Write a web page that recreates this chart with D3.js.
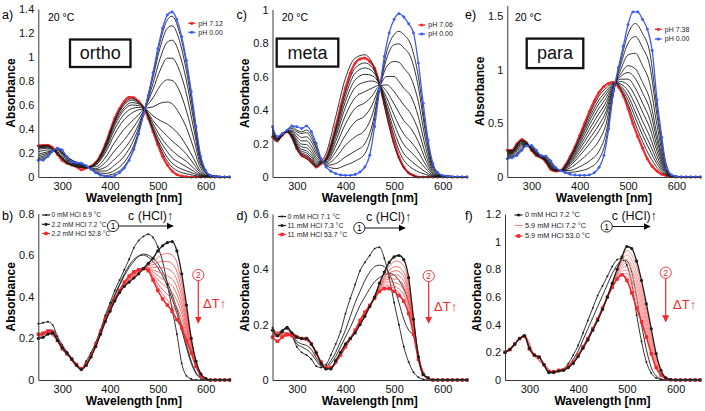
<!DOCTYPE html>
<html><head><meta charset="utf-8">
<script src="https://cdn.jsdelivr.net/npm/d3@7"></script>
<style>body{margin:0;background:#fff} svg text{font-family:"Liberation Sans",Arial,sans-serif}</style>
</head><body><script>
// ---------------- DATA ----------------
const xTicks = [300,400,500,600];
const wl = [250,260,270,280,290,300,310,320,330,340,350,360,370,380,390,400,410,420,430,440,450,460,470,480,490,500,510,520,530,540,550,560,570,580,590,600,610,620,630,640,650];

// (a) ortho, 20 °C
const orthoRed  = [.26,.265,.265,.245,.19,.14,.115,.10,.085,.06,.075,.09,.12,.18,.27,.38,.49,.57,.63,.665,.66,.63,.58,.49,.38,.27,.17,.10,.05,.02,.008,.003,0,0,0,0,0,0,0,0,0];
const orthoBlue = [.14,.14,.17,.215,.24,.225,.17,.125,.12,.115,.095,.065,.035,.015,.005,.003,.012,.035,.075,.14,.23,.36,.52,.68,.87,1.07,1.24,1.35,1.375,1.31,1.17,.97,.71,.42,.17,.055,.015,.004,0,0,0];
const orthoMidWl = [250,270,290,310,330,350,370,390,410,430,445,460,473,490,505,520,530,545,560,575,590,610,650];
const orthoMid = [
 [.14,.17,.24,.17,.12,.09,.04,.013,.03,.09,.19,.37,.57,.86,1.13,1.31,1.34,1.21,.94,.55,.165,.015,0],
 [.15,.18,.24,.165,.12,.09,.04,.03,.055,.125,.22,.38,.57,.83,1.08,1.24,1.26,1.14,.88,.52,.155,.014,0],
 [.16,.19,.23,.16,.11,.09,.05,.05,.10,.175,.27,.41,.57,.78,.99,1.125,1.14,1.03,.80,.47,.14,.012,0],
 [.175,.20,.225,.155,.11,.09,.06,.08,.15,.235,.32,.44,.57,.73,.89,.99,.99,.89,.69,.405,.12,.011,0],
 [.19,.21,.22,.145,.105,.085,.07,.12,.22,.31,.39,.48,.57,.66,.76,.81,.805,.72,.55,.325,.097,.009,0],
 [.21,.225,.21,.14,.10,.083,.085,.16,.29,.40,.46,.52,.57,.585,.615,.625,.61,.53,.41,.24,.071,.006,0],
 [.23,.24,.20,.13,.095,.08,.10,.20,.36,.48,.53,.56,.565,.51,.47,.44,.41,.35,.26,.155,.046,.004,0],
 [.24,.25,.20,.125,.09,.08,.10,.22,.40,.525,.57,.58,.565,.47,.40,.34,.30,.25,.19,.11,.032,.003,0],
 [.245,.25,.195,.12,.09,.078,.11,.235,.43,.56,.60,.595,.565,.445,.34,.26,.22,.17,.13,.074,.022,.002,0],
 [.25,.257,.194,.12,.088,.077,.113,.247,.45,.58,.62,.61,.565,.42,.30,.21,.16,.12,.085,.048,.014,.001,0],
 [.254,.26,.192,.118,.087,.076,.116,.257,.466,.602,.64,.617,.565,.40,.267,.163,.116,.075,.051,.029,.009,.001,0],
 [.257,.263,.191,.116,.086,.076,.118,.263,.478,.616,.653,.623,.565,.39,.243,.131,.083,.044,.027,.014,.004,0,0]
];

// (c) meta, 20 °C
const metaRed  = [.24,.22,.25,.27,.24,.17,.13,.115,.09,.06,.08,.11,.19,.30,.42,.53,.62,.68,.705,.71,.69,.65,.56,.44,.32,.21,.12,.06,.025,.01,0,0,0,0,0,0,0,0,0,0,0];
const metaBlue = [.30,.24,.26,.28,.305,.30,.29,.305,.27,.20,.11,.06,.035,.02,.012,.01,.01,.015,.03,.06,.13,.30,.52,.72,.86,.94,.975,.955,.915,.86,.68,.44,.22,.08,.025,.01,.005,0,0,0,0];
const metaMidWl = [250,260,270,280,290,300,310,320,330,340,350,360,380,400,420,440,455,470,485,500,510,520,535,550,565,580,600,650];
const metaMid = [
 [.23,.21,.25,.27,.23,.165,.125,.11,.085,.06,.09,.14,.36,.59,.71,.73,.68,.55,.36,.19,.11,.055,.015,0,0,0,0,0],
 [.29,.24,.26,.28,.30,.28,.27,.28,.25,.18,.11,.07,.05,.07,.095,.14,.27,.525,.75,.85,.87,.85,.785,.60,.29,.07,.009,0],
 [.29,.24,.258,.278,.29,.27,.26,.265,.23,.17,.10,.07,.08,.12,.155,.20,.31,.53,.71,.79,.795,.77,.71,.537,.26,.063,.008,0],
 [.28,.233,.257,.277,.28,.256,.236,.24,.21,.15,.10,.077,.115,.19,.24,.28,.37,.534,.66,.69,.685,.65,.59,.449,.218,.053,.007,0],
 [.272,.231,.255,.275,.274,.239,.215,.216,.185,.134,.096,.084,.15,.25,.33,.365,.43,.539,.60,.60,.57,.53,.48,.36,.175,.042,.005,0],
 [.265,.228,.254,.274,.267,.223,.196,.193,.164,.117,.092,.09,.185,.317,.41,.443,.484,.544,.55,.51,.47,.43,.375,.279,.135,.033,.004,0],
 [.259,.226,.253,.273,.26,.21,.18,.174,.146,.103,.089,.095,.213,.369,.474,.51,.531,.548,.51,.436,.385,.337,.288,.211,.102,.025,.003,0],
 [.253,.224,.252,.272,.254,.199,.165,.157,.13,.091,.087,.099,.238,.416,.534,.567,.573,.551,.472,.371,.308,.257,.209,.15,.073,.018,.002,0],
 [.249,.223,.252,.272,.25,.19,.154,.144,.117,.081,.085,.103,.258,.452,.58,.613,.605,.554,.443,.32,.248,.194,.148,.102,.05,.012,.002,0],
 [.245,.222,.251,.271,.246,.182,.144,.132,.106,.073,.083,.106,.275,.483,.62,.651,.633,.556,.418,.276,.197,.14,.096,.061,.03,.007,.001,0],
 [.243,.221,.25,.27,.243,.176,.137,.124,.098,.066,.081,.108,.287,.507,.65,.681,.654,.558,.399,.243,.158,.10,.056,.031,.015,.004,0,0]
];

// (e) para, 20 °C
const paraRed  = [.25,.25,.31,.35,.32,.25,.20,.18,.14,.07,.055,.06,.11,.19,.28,.39,.50,.61,.71,.79,.845,.875,.885,.84,.76,.64,.50,.38,.27,.17,.10,.055,.025,.01,.003,0,0,0,0,0,0];
const paraBlue = [.17,.18,.20,.25,.29,.295,.25,.20,.195,.15,.09,.06,.04,.025,.018,.015,.015,.02,.04,.09,.20,.45,.80,1.02,1.22,1.42,1.54,1.54,1.47,1.38,1.18,.72,.37,.08,.02,.005,0,0,0,0,0];
const paraMidWl = [250,260,270,280,290,300,310,320,330,340,350,360,380,400,420,440,455,465,475,485,500,515,530,545,560,575,590,610,650];
const paraMid = [
 [.179,.188,.212,.261,.293,.29,.245,.198,.189,.141,.086,.06,.043,.056,.085,.167,.362,.649,.897,1.085,1.334,1.432,1.338,1.163,.647,.198,.018,.002,0],
 [.188,.195,.224,.272,.297,.285,.239,.196,.183,.132,.082,.06,.061,.097,.15,.244,.423,.677,.895,1.05,1.248,1.31,1.206,1.036,.574,.176,.016,.002,0],
 [.199,.205,.24,.286,.301,.279,.232,.193,.175,.121,.077,.06,.084,.15,.232,.342,.502,.714,.891,1.005,1.139,1.154,1.038,.874,.481,.147,.014,.001,0],
 [.209,.214,.254,.299,.305,.273,.226,.19,.168,.111,.073,.06,.106,.199,.309,.433,.574,.747,.888,.963,1.038,1.009,.882,.724,.394,.121,.012,.001,0],
 [.216,.22,.263,.307,.307,.269,.222,.189,.164,.104,.07,.06,.119,.229,.356,.489,.619,.768,.886,.938,.975,.919,.786,.632,.341,.105,.01,.001,0],
 [.222,.226,.272,.315,.31,.266,.218,.187,.159,.098,.067,.06,.132,.259,.403,.545,.664,.789,.884,.912,.913,.83,.69,.539,.288,.089,.009,.001,0],
 [.228,.23,.279,.322,.312,.263,.214,.186,.155,.092,.065,.06,.144,.285,.445,.594,.703,.807,.882,.89,.858,.752,.606,.458,.241,.075,.008,.001,0],
 [.233,.235,.287,.329,.314,.259,.211,.184,.152,.087,.062,.06,.155,.311,.486,.643,.742,.825,.88,.867,.804,.674,.522,.378,.195,.06,.007,0,0],
 [.238,.24,.294,.335,.316,.257,.208,.183,.148,.082,.06,.06,.165,.334,.522,.685,.776,.841,.879,.848,.757,.607,.45,.308,.155,.048,.006,0,0],
 [.242,.243,.299,.34,.317,.255,.205,.182,.146,.078,.059,.06,.174,.353,.551,.72,.804,.854,.878,.832,.718,.552,.39,.251,.122,.038,.005,0,0],
 [.246,.247,.305,.345,.319,.252,.203,.181,.143,.074,.057,.06,.182,.371,.58,.755,.832,.867,.876,.816,.679,.496,.33,.193,.088,.028,.004,0,0]
];

// (b) ortho, HCl / temperature
const bBlack0   = [.27,.275,.28,.265,.21,.17,.135,.105,.075,.055,.09,.13,.18,.24,.31,.37,.43,.48,.53,.58,.635,.67,.69,.70,.685,.64,.57,.46,.34,.22,.08,.02,.005,0,0,0,0,0,0,0,0];
const bBlackHCl = [.20,.205,.22,.225,.19,.155,.13,.10,.07,.05,.07,.11,.16,.22,.28,.33,.38,.42,.45,.47,.49,.51,.535,.56,.585,.62,.645,.66,.665,.62,.51,.36,.20,.09,.03,.008,0,0,0,0,0];
const bRedHot   = [.22,.225,.235,.23,.19,.15,.125,.10,.075,.055,.075,.115,.17,.23,.29,.34,.39,.43,.47,.50,.52,.53,.535,.525,.48,.43,.39,.36,.33,.29,.25,.19,.13,.065,.02,.004,0,0,0,0,0];
const bBlackMid = [
 [.21,.215,.235,.235,.195,.16,.13,.10,.072,.052,.075,.115,.17,.23,.29,.35,.405,.455,.50,.54,.57,.595,.605,.60,.585,.56,.52,.47,.41,.34,.26,.17,.09,.035,.01,0,0,0,0,0,0],
 [.215,.22,.24,.24,.20,.16,.13,.10,.072,.052,.078,.12,.175,.235,.295,.355,.41,.46,.51,.55,.58,.595,.60,.59,.57,.54,.50,.45,.39,.32,.24,.155,.08,.03,.008,0,0,0,0,0,0]
];
const bPinkWl = [250,270,290,310,340,370,400,430,460,475,490,505,520,535,550,565,580,595,610,650];
const bPink = [
 [.203,.223,.19,.129,.051,.162,.332,.453,.513,.547,.567,.597,.609,.589,.466,.26,.086,.017,0,0],
 [.206,.225,.19,.129,.052,.163,.333,.456,.516,.546,.554,.568,.57,.546,.432,.244,.083,.016,0,0],
 [.208,.226,.19,.128,.052,.164,.334,.458,.518,.544,.541,.541,.534,.506,.401,.23,.08,.016,0,0],
 [.211,.228,.19,.127,.053,.165,.335,.461,.521,.542,.529,.516,.501,.47,.372,.216,.077,.015,0,0],
 [.213,.229,.19,.127,.053,.166,.336,.463,.523,.541,.519,.493,.471,.437,.346,.204,.074,.014,0,0],
 [.215,.231,.19,.126,.054,.167,.337,.465,.525,.539,.508,.471,.441,.404,.32,.192,.072,.014,0,0],
 [.217,.232,.19,.126,.054,.168,.338,.467,.527,.538,.498,.448,.411,.371,.294,.18,.069,.013,0,0],
 [.218,.234,.19,.125,.055,.169,.339,.468,.528,.536,.488,.428,.384,.342,.271,.17,.067,.012,0,0]
];

// (d) meta, HCl / temperature
const dBlack0   = [.19,.17,.18,.185,.16,.12,.10,.09,.075,.05,.045,.055,.09,.13,.175,.24,.295,.345,.395,.425,.45,.475,.48,.44,.37,.28,.20,.12,.065,.028,.01,.002,0,0,0,0,0,0,0,0,0];
const dBlackHCl = [.18,.16,.175,.19,.17,.155,.15,.15,.13,.10,.06,.04,.04,.07,.10,.13,.15,.17,.20,.23,.265,.30,.35,.39,.425,.445,.45,.435,.37,.22,.085,.02,.008,0,0,0,0,0,0,0,0];
const dRedHot   = [.155,.14,.155,.165,.16,.155,.15,.15,.13,.095,.065,.043,.045,.065,.09,.12,.15,.18,.215,.245,.27,.295,.32,.33,.33,.32,.305,.285,.24,.165,.075,.02,.006,0,0,0,0,0,0,0,0];
const dBlackMid = [
 [.19,.17,.18,.19,.165,.13,.12,.11,.095,.07,.05,.05,.07,.10,.14,.18,.23,.28,.32,.36,.39,.41,.415,.41,.385,.34,.28,.22,.18,.16,.09,.02,.005,0,0,0,0,0,0,0,0],
 [.185,.165,.178,.19,.168,.14,.13,.125,.11,.08,.055,.045,.06,.085,.12,.155,.19,.23,.27,.30,.33,.355,.37,.38,.385,.38,.36,.33,.28,.20,.09,.022,.005,0,0,0,0,0,0,0,0]
];
const dPinkWl = [250,270,290,310,330,350,370,390,420,450,470,490,505,520,535,550,565,580,610,650];
const dPink = [
 [.176,.172,.169,.15,.13,.061,.041,.099,.172,.266,.346,.411,.43,.413,.295,.089,.015,0,0,0],
 [.173,.169,.167,.15,.13,.062,.042,.097,.173,.267,.341,.397,.41,.39,.28,.087,.014,0,0,0],
 [.17,.167,.166,.15,.13,.062,.042,.096,.174,.267,.338,.386,.395,.374,.269,.086,.014,0,0,0],
 [.167,.165,.165,.15,.13,.063,.043,.095,.175,.268,.334,.376,.38,.357,.258,.085,.014,0,0,0],
 [.164,.162,.164,.15,.13,.063,.043,.094,.176,.268,.331,.365,.365,.341,.247,.084,.014,0,0,0],
 [.162,.16,.163,.15,.13,.064,.044,.093,.177,.269,.328,.355,.35,.324,.236,.083,.014,0,0,0],
 [.159,.158,.162,.15,.13,.064,.044,.092,.179,.269,.325,.344,.335,.308,.225,.082,.013,0,0,0],
 [.157,.156,.161,.15,.13,.065,.045,.091,.179,.27,.322,.337,.325,.286,.217,.081,.013,0,0,0]
];

// (f) para, HCl / temperature
const fBlack0   = [.20,.22,.26,.30,.325,.23,.18,.165,.11,.055,.05,.07,.08,.12,.18,.25,.34,.43,.52,.61,.68,.75,.82,.87,.88,.83,.70,.47,.28,.13,.05,.015,.004,0,0,0,0,0,0,0,0];
const fBlackMid = [.20,.22,.26,.30,.325,.23,.18,.165,.11,.055,.052,.068,.075,.10,.15,.21,.29,.37,.45,.53,.61,.69,.77,.83,.865,.86,.78,.60,.40,.22,.09,.03,.008,0,0,0,0,0,0,0,0];
const fBlackHCl = [.20,.22,.26,.30,.32,.23,.18,.165,.11,.055,.055,.065,.07,.09,.12,.17,.23,.29,.36,.43,.51,.60,.70,.80,.89,.965,.95,.86,.72,.55,.37,.19,.07,.015,.003,0,0,0,0,0,0];
const fRedHot   = [.20,.22,.26,.30,.315,.225,.18,.165,.11,.06,.06,.07,.075,.10,.13,.18,.24,.30,.37,.44,.52,.60,.67,.73,.76,.72,.63,.52,.42,.31,.19,.09,.035,.01,.002,0,0,0,0,0,0];
const fPinkWl = [250,270,290,310,330,350,370,390,410,430,450,470,485,500,515,530,545,560,575,590,610,650];
const fPink = [
 [.2,.26,.319,.18,.11,.056,.071,.121,.231,.361,.511,.696,.834,.936,.87,.684,.434,.178,.038,.003,0,0],
 [.2,.26,.319,.18,.11,.056,.071,.123,.233,.363,.513,.693,.821,.904,.828,.645,.406,.165,.035,.003,0,0],
 [.2,.26,.318,.18,.11,.057,.072,.124,.234,.364,.514,.689,.81,.874,.788,.609,.381,.153,.033,.003,0,0],
 [.2,.26,.318,.18,.11,.057,.072,.125,.235,.365,.515,.686,.799,.847,.752,.576,.357,.142,.03,.003,0,0],
 [.2,.26,.317,.18,.11,.058,.073,.126,.236,.366,.516,.682,.789,.821,.715,.543,.333,.131,.028,.002,0,0],
 [.2,.26,.317,.18,.11,.059,.074,.127,.237,.367,.517,.679,.779,.794,.679,.51,.31,.12,.026,.002,0,0],
 [.2,.26,.316,.18,.11,.059,.074,.128,.238,.368,.518,.676,.769,.769,.646,.48,.288,.11,.024,.002,0,0],
 [.2,.26,.316,.18,.11,.06,.075,.129,.239,.369,.519,.673,.76,.745,.613,.45,.267,.1,.022,.002,0,0]
];

// labels
const topLegends = [["pH 7.12","pH 0.00"],["pH 7.06","pH 0.00"],["pH 7.38","pH 0.00"]];
const isomers = ["ortho","meta","para"];
const bLegend = ["0 mM HCl 6.9 °C","2.2 mM HCl 7.2 °C","2.2 mM HCl 52.8 °C"];
const dLegend = ["0 mM HCl 7.1 °C","11 mM HCl 7.3 °C","11 mM HCl 53.7 °C"];
const fLegend = ["0 mM HCl 7.2 °C","5.9 mM HCl 7.2 °C","5.9 mM HCl 53.0 °C"];

// ---------------- DRAWING ----------------
const RED="#f0282d", BLUE="#3d5cf2", BLK="#1c1c1c", PINK="#f45d5d", PINKF="#f78888";
const svg = d3.select("body").append("svg").attr("width",705).attr("height",411).style("display","block");
const defs = svg.append("defs");
[["ahK","#000"],["ahR",RED]].forEach(([id,c])=>{
  defs.append("marker").attr("id",id).attr("viewBox","0 0 10 10").attr("refX",9).attr("refY",5)
   .attr("markerWidth",6).attr("markerHeight",6).attr("orient","auto")
   .append("path").attr("d","M0,0 L10,5 L0,10 z").attr("fill",c);
});

function makePanel(c){
  const x = d3.scaleLinear().domain([250,650]).range([c.x0,c.x1]);
  const y = d3.scaleLinear().domain([0,c.ymax]).range([c.y0,c.y1]);
  const g = svg.append("g");
  const lines = g.append("g");
  const fmt = d => d===0 ? "0" : (Number.isInteger(d) ? String(d) : d.toFixed(1));
  const ax = g.append("g").attr("transform",`translate(0,${c.y0})`)
     .call(d3.axisBottom(x).tickValues(xTicks).tickSize(0).tickPadding(5).tickFormat(d3.format("d")));
  const ay = g.append("g").attr("transform",`translate(${c.x0},0)`)
     .call(d3.axisLeft(y).tickValues(c.ticks).tickSize(0).tickPadding(4).tickFormat(fmt));
  [ax,ay].forEach(a=>{
    a.select(".domain").attr("stroke","#3a3a3a").attr("stroke-width",1);
    a.selectAll("text").attr("font-size",11).attr("fill","#111");
  });
  g.append("text").attr("x",(c.x0+c.x1)/2).attr("y",c.y0+25).attr("text-anchor","middle")
    .attr("font-weight","bold").attr("font-size",12).text("Wavelength [nm]");
  g.append("text").attr("transform",`translate(${c.x0-28},${(c.y0+c.y1)/2}) rotate(-90)`)
    .attr("text-anchor","middle").attr("dy","0.35em").attr("font-weight","bold").attr("font-size",12).text("Absorbance");
  g.append("text").attr("x",c.lx).attr("y",c.ly).attr("font-size",12.5).text(c.letter);
  return {x,y,g,lines};
}
function path(p, w, v, color, width){
  p.lines.append("path").datum(w.map((d,i)=>[d,v[i]])).attr("fill","none").attr("stroke",color)
   .attr("stroke-width",width).attr("stroke-linejoin","round")
   .attr("d", d3.line().x(d=>p.x(d[0])).y(d=>p.y(d[1])).curve(d3.curveMonotoneX));
}
function dots(p, w, v, color, r, square){
  const s = p.lines.append("g").attr("fill",color);
  if(square){
    s.selectAll("rect").data(w.map((d,i)=>[d,v[i]])).join("rect")
     .attr("x",d=>p.x(d[0])-r).attr("y",d=>p.y(d[1])-r).attr("width",2*r).attr("height",2*r);
  } else {
    s.selectAll("circle").data(w.map((d,i)=>[d,v[i]])).join("circle")
     .attr("cx",d=>p.x(d[0])).attr("cy",d=>p.y(d[1])).attr("r",r);
  }
}

const topCfg = [
 {x0:38.3,x1:229.5,y0:177,y1:9,ymax:1.4,ticks:[0,.2,.4,.6,.8,1,1.2,1.4],letter:"a)",lx:2,ly:18.5,
  red:orthoRed,blue:orthoBlue,midWl:orthoMidWl,mid:orthoMid,box:[70,39.5,60.5,27.5],leg:[188.3,23.3,9],tc:[48,20.5]},
 {x0:272.5,x1:467,y0:177,y1:9.5,ymax:1,ticks:[0,.2,.4,.6,.8,1],letter:"c)",lx:236.5,ly:18.5,
  red:metaRed,blue:metaBlue,midWl:metaMidWl,mid:metaMid,box:[276.7,38.6,61.6,28],leg:[418.3,25,9],tc:[281.7,21]},
 {x0:507.3,x1:700.5,y0:177,y1:5.5,ymax:1.6,ticks:[0,.5,1,1.5],letter:"e)",lx:465,ly:18.5,
  red:paraRed,blue:paraBlue,midWl:paraMidWl,mid:paraMid,box:[526.7,38.6,56.6,29.5],leg:[654.8,29.3,9.7],tc:[515,20.5]}
];
topCfg.forEach((c,k)=>{
  const p = makePanel(c);
  path(p, wl, c.red, RED, 2.2); dots(p, wl, c.red, RED, 1.5);
  c.mid.forEach(m=>path(p, c.midWl, m, BLK, 0.9));
  path(p, wl, c.blue, BLUE, 1.3); dots(p, wl, c.blue, BLUE, 1.45);
  p.g.append("rect").attr("x",c.box[0]).attr("y",c.box[1]).attr("width",c.box[2]).attr("height",c.box[3])
    .attr("fill","#fff").attr("stroke","#111").attr("stroke-width",2.3);
  p.g.append("text").attr("x",c.box[0]+c.box[2]/2).attr("y",c.box[1]+c.box[3]/2+6).attr("text-anchor","middle")
    .attr("font-size",18).attr("fill","#111").text(isomers[k]);
  p.g.append("text").attr("x",c.tc[0]).attr("y",c.tc[1]).attr("font-size",10.5).text("20 °C");
  [RED,BLUE].forEach((col,i)=>{
    const yy = c.leg[1]+i*c.leg[2];
    p.g.append("line").attr("x1",c.leg[0]).attr("x2",c.leg[0]+7).attr("y1",yy).attr("y2",yy).attr("stroke",col).attr("stroke-width",1.3);
    p.g.append("circle").attr("cx",c.leg[0]+3.5).attr("cy",yy).attr("r",1.6).attr("fill",col);
    p.g.append("text").attr("x",c.leg[0]+10).attr("y",yy+2.4).attr("font-size",7).attr("fill","#222").text(topLegends[k][i]);
  });
});

const botCfg = [
 {x0:38.3,x1:229.5,y0:380,y1:213.5,ymax:.8,ticks:[0,.2,.4,.6,.8],letter:"b)",lx:2,ly:220,
  k0:bBlack0,kH:bBlackHCl,rH:bRedHot,km:bBlackMid,pw:bPinkWl,pk:bPink,pcol:PINK,labels:bLegend,style:"bd",
  leg:[42,[215,224.3,233.5],51.5,6.6],
  an:{c1:[113,226],ae:173,tx:128,ty:219.5,c2:[198.3,275],a2:323,dx:203,dy:308}},
 {x0:272.5,x1:467,y0:380,y1:214,ymax:.6,ticks:[0,.2,.4,.6],letter:"d)",lx:236.5,ly:220,
  k0:dBlack0,kH:dBlackHCl,rH:dRedHot,km:dBlackMid,pw:dPinkWl,pk:dPink,pcol:PINK,labels:dLegend,style:"bd",
  leg:[278,[216.5,225.5,234.5],287.5,7],
  an:{c1:[359.3,228],ae:405,tx:366,ty:221,c2:[428.7,276],a2:323,dx:434,dy:311}},
 {x0:505,x1:700,y0:380,y1:214,ymax:1.2,ticks:[0,.2,.4,.6,.8,1,1.2],letter:"f)",lx:465,ly:220,
  k0:fBlack0,kH:fBlackHCl,rH:fRedHot,km:[fBlackMid],pw:fPinkWl,pk:fPink,pcol:PINKF,labels:fLegend,style:"f",
  leg:[514.5,[215,225.5,236],525,7.3],
  an:{c1:[606.7,226.5],ae:650,tx:611.7,ty:219.5,c2:[665.7,272.7],a2:321.7,dx:673,dy:309}}
];
botCfg.forEach(c=>{
  const p = makePanel(c);
  c.km.forEach(m=>path(p, wl, m, BLK, 0.9));
  path(p, wl, c.k0, BLK, 0.9); dots(p, wl, c.k0, BLK, 0.95);
  c.pk.forEach(m=>path(p, c.pw, m, c.pcol, 0.9));
  path(p, wl, c.rH, RED, 1.6); dots(p, wl, c.rH, RED, 1.7, true);
  path(p, wl, c.kH, BLK, 1.3); dots(p, wl, c.kH, BLK, 1.6);
  const rows = c.style==="bd"
    ? [{col:BLK,mk:"c",r:1},{col:BLK,mk:"c",r:1.6},{col:RED,mk:"s",r:1.7}]
    : [{col:BLK,mk:"c",r:1.6},{col:PINKF,mk:null},{col:RED,mk:"s",r:1.8}];
  rows.forEach((rw,i)=>{
    const yy = c.leg[1][i], x0 = c.leg[0];
    p.g.append("line").attr("x1",x0).attr("x2",x0+8).attr("y1",yy).attr("y2",yy).attr("stroke",rw.col).attr("stroke-width",1.2);
    if(rw.mk==="c") p.g.append("circle").attr("cx",x0+4).attr("cy",yy).attr("r",rw.r).attr("fill",rw.col);
    if(rw.mk==="s") p.g.append("rect").attr("x",x0+4-rw.r).attr("y",yy-rw.r).attr("width",2*rw.r).attr("height",2*rw.r).attr("fill",rw.col);
    p.g.append("text").attr("x",c.leg[2]).attr("y",yy+2.4).attr("font-size",c.leg[3]).attr("fill","#222").text(c.labels[i]);
  });
  const a = c.an;
  p.g.append("circle").attr("cx",a.c1[0]).attr("cy",a.c1[1]).attr("r",5.6).attr("fill","none").attr("stroke","#111").attr("stroke-width",0.9);
  p.g.append("text").attr("x",a.c1[0]).attr("y",a.c1[1]+3).attr("text-anchor","middle").attr("font-size",8.5).text("1");
  p.g.append("line").attr("x1",a.c1[0]+5.6).attr("x2",a.ae).attr("y1",a.c1[1]).attr("y2",a.c1[1])
    .attr("stroke","#111").attr("stroke-width",1.2).attr("marker-end","url(#ahK)");
  const t = p.g.append("text").attr("x",a.tx).attr("y",a.ty).attr("font-size",12.5).attr("fill","#111");
  t.append("tspan").text("c (HCl)"); t.append("tspan").attr("font-weight","bold").text("↑");
  p.g.append("circle").attr("cx",a.c2[0]).attr("cy",a.c2[1]).attr("r",5.6).attr("fill","none").attr("stroke",RED).attr("stroke-width",0.9);
  p.g.append("text").attr("x",a.c2[0]).attr("y",a.c2[1]+3).attr("text-anchor","middle").attr("font-size",8.5).attr("fill",RED).text("2");
  p.g.append("line").attr("x1",a.c2[0]).attr("x2",a.c2[0]).attr("y1",a.c2[1]+5.6).attr("y2",a.a2)
    .attr("stroke",RED).attr("stroke-width",1.2).attr("marker-end","url(#ahR)");
  const t2 = p.g.append("text").attr("x",a.dx).attr("y",a.dy).attr("font-size",13).attr("fill",RED);
  t2.append("tspan").text("ΔT"); t2.append("tspan").attr("font-weight","bold").text("↑");
});
</script></body></html>
